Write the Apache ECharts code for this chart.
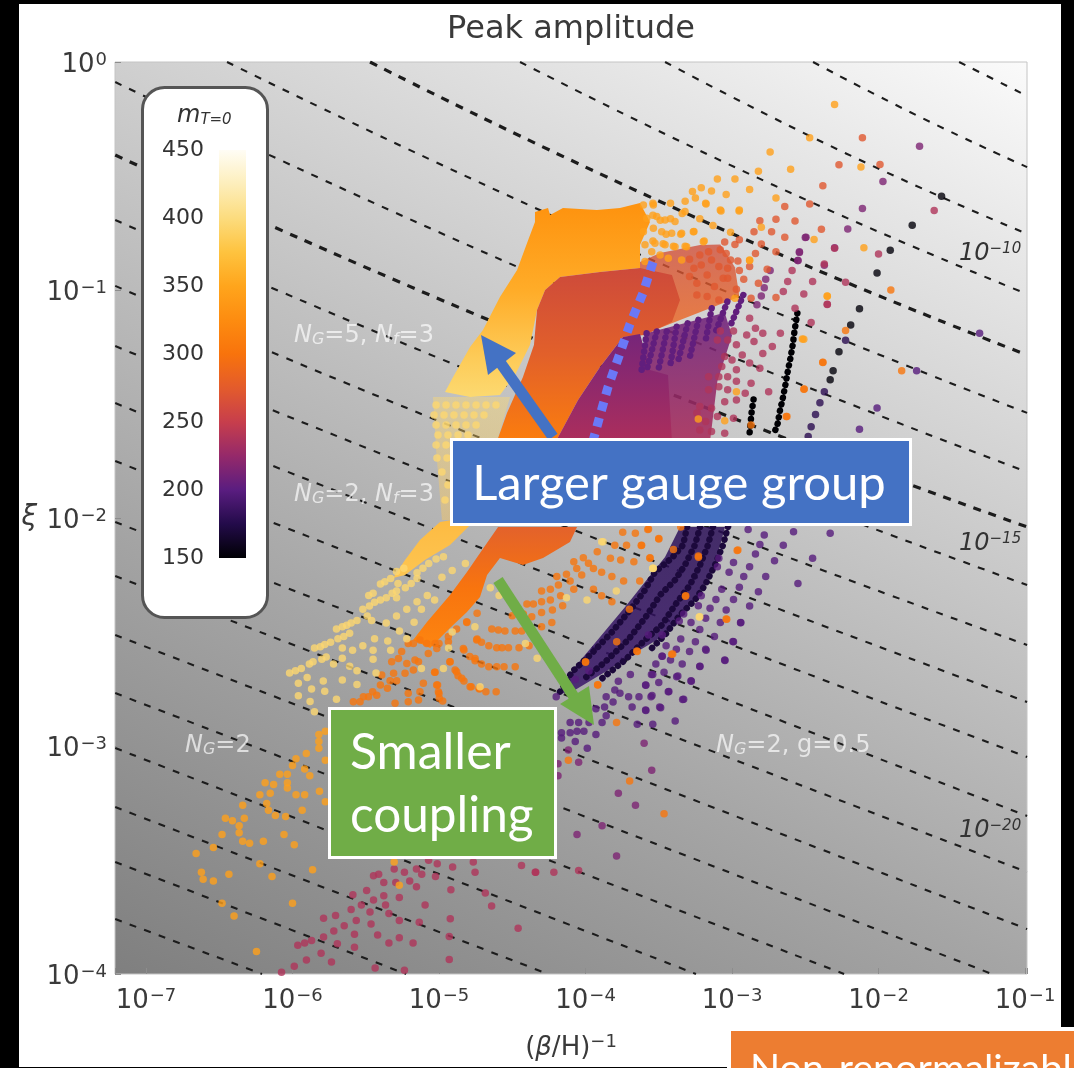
<!DOCTYPE html>
<html>
<head>
<meta charset="utf-8">
<title>Peak amplitude</title>
<script src="https://cdn.jsdelivr.net/npm/echarts@6/dist/echarts.min.js"></script>
<style>
html, body { margin: 0; padding: 0; background: #fff; overflow: hidden; }
#main { width: 1074px; height: 1068px; }
</style>
</head>
<body>
<div id="main"></div>
<script>
// every pair below is [log10 (beta/H)^-1, log10 xi]

var massTicks = [450, 400, 350, 300, 250, 200, 150];
var massColors = ['#000004', '#230b4a', '#5a1d80', '#95296a', '#c73e4c', '#e35b2c', '#f8730c', '#fd8c10', '#ffa51c', '#fec33f', '#fcdc7e', '#fdeebb', '#fffdf5'];

// dashed contours
var thinLines = [
    [[-1.45, 0], [-0.986, -0.149]],
    [[-2.447, 0], [-1.717, -0.241], [-0.986, -0.461]],
    [[-3.457, 0], [-2.222, -0.401], [-0.986, -0.754]],
    [[-4.447, 0], [-2.72, -0.539], [-0.986, -1.018]],
    [[-6.447, 0], [-3.717, -0.82], [-0.986, -1.539]],
    [[-7.21, -0.088], [-4.099, -1.0], [-0.986, -1.798]],
    [[-7.21, -0.693], [-4.099, -1.535], [-0.986, -2.294]],
    [[-7.21, -0.982], [-4.099, -1.807], [-0.986, -2.557]],
    [[-7.21, -1.246], [-4.099, -2.048], [-0.986, -2.807]],
    [[-7.21, -1.496], [-4.099, -2.285], [-0.986, -3.048]],
    [[-7.21, -1.75], [-4.099, -2.531], [-0.986, -3.307]],
    [[-7.21, -2.018], [-0.986, -3.553]],
    [[-7.21, -2.254], [-0.986, -3.803]],
    [[-7.21, -2.513], [-1.225, -4]],
    [[-7.21, -2.768], [-2.235, -4]],
    [[-7.21, -3.009], [-3.246, -4]],
    [[-7.21, -3.268], [-4.256, -4]],
    [[-7.21, -3.509], [-5.225, -4]],
    [[-7.21, -3.759], [-6.208, -4]]
];
var thickLines = [
    [[-5.471, 0], [-3.232, -0.687], [-0.986, -1.285]],
    [[-7.21, -0.408], [-4.099, -1.281], [-0.986, -2.039]]
];

// solid parts of the scan, too dense to tell dots apart
var amberRegion = [[-4.345, -0.702], [-4.345, -0.658], [-4.256, -0.64], [-4.242, -0.671], [-4.154, -0.64], [-3.922, -0.649], [-3.765, -0.64], [-3.628, -0.618], [-3.56, -0.702], [-3.628, -0.803], [-3.628, -0.904], [-3.901, -0.921], [-4.174, -0.943], [-4.276, -1.0], [-4.331, -1.088], [-4.379, -1.241], [-4.481, -1.373], [-4.584, -1.461], [-4.788, -1.469], [-4.959, -1.447], [-4.904, -1.382], [-4.788, -1.25], [-4.7, -1.175], [-4.584, -1.031], [-4.467, -0.912], [-4.399, -0.794]];
var redRegion = [[-4.174, -0.943], [-3.901, -0.921], [-3.628, -0.904], [-3.41, -0.934], [-3.355, -1.044], [-3.41, -1.14], [-3.594, -1.197], [-3.744, -1.206], [-3.901, -1.338], [-4.051, -1.482], [-4.201, -1.662], [-4.604, -1.662], [-4.536, -1.539], [-4.427, -1.382], [-4.352, -1.241], [-4.331, -1.088], [-4.276, -1.0]];
var magentaRegion = [[-3.744, -1.206], [-3.628, -1.193], [-3.56, -1.351], [-3.437, -1.373], [-3.41, -1.662], [-4.201, -1.662], [-4.051, -1.482], [-3.901, -1.338]];
var orangeRegion = [[-4.597, -2.039], [-4.058, -2.039], [-4.106, -2.105], [-4.29, -2.175], [-4.427, -2.206], [-4.584, -2.175], [-4.672, -2.25], [-4.72, -2.346], [-4.809, -2.412], [-4.925, -2.482], [-5.061, -2.57], [-5.177, -2.535], [-5.082, -2.456], [-4.925, -2.338], [-4.809, -2.237], [-4.72, -2.154]];
var yellowRegion = [[-4.911, -2.009], [-4.788, -2.031], [-4.925, -2.118], [-5.096, -2.184], [-5.232, -2.25], [-5.314, -2.263], [-5.232, -2.184], [-5.13, -2.096], [-4.993, -2.018]];

// looser parts: dots with the background showing between them
var yellowLoose = [[-5.041, -1.469], [-4.515, -1.469], [-4.604, -1.662], [-4.911, -1.662], [-4.911, -2.009], [-4.98, -2.009], [-5.02, -1.7]];
var redLoose = [[-3.628, -0.877], [-3.491, -0.838], [-3.218, -0.803], [-3.08, -0.8], [-2.98, -0.9], [-2.95, -1.03], [-3.58, -1.189], [-3.628, -1.1]];
var magentaLoose = [[-3.58, -1.189], [-3.05, -1.1], [-3.0, -1.2], [-3.1, -1.4], [-3.15, -1.662], [-3.628, -1.662]];
var darkLoose = [[-4.195, -2.776], [-4.072, -2.654], [-3.901, -2.522], [-3.73, -2.39], [-3.594, -2.281], [-3.457, -2.171], [-3.355, -2.039], [-3.048, -2.039], [-3.116, -2.206], [-3.253, -2.36], [-3.457, -2.513], [-3.628, -2.579], [-3.867, -2.675], [-4.072, -2.754]];

// runs of dots that touch each other
var purpleStrands = [
    [[-2.923, -1.022], [-3.014, -1.161]],
    [[-3.032, -1.051], [-3.116, -1.19]],
    [[-3.139, -1.08], [-3.184, -1.234]],
    [[-3.23, -1.131], [-3.287, -1.292]],
    [[-3.303, -1.146], [-3.366, -1.307]],
    [[-3.378, -1.161], [-3.423, -1.336]],
    [[-3.446, -1.182], [-3.503, -1.351]],
    [[-3.514, -1.182], [-3.582, -1.351]],
    [[-3.583, -1.19], [-3.617, -1.351]]
];
var darkStrands = [
    [[-3.307, -2.039], [-3.334, -2.118], [-3.41, -2.175], [-3.526, -2.237], [-3.594, -2.316], [-3.696, -2.404], [-3.819, -2.5], [-3.969, -2.601], [-4.092, -2.675], [-4.188, -2.776]],
    [[-3.218, -2.039], [-3.253, -2.118], [-3.321, -2.206], [-3.389, -2.272], [-3.491, -2.338], [-3.594, -2.439], [-3.71, -2.535], [-3.867, -2.632], [-4.003, -2.702]],
    [[-3.13, -2.039], [-3.164, -2.118], [-3.218, -2.206], [-3.287, -2.294], [-3.389, -2.382], [-3.478, -2.469], [-3.594, -2.535], [-3.73, -2.623], [-3.901, -2.711]],
    [[-3.027, -2.039], [-3.061, -2.118], [-3.116, -2.206], [-3.184, -2.294], [-3.253, -2.36], [-3.355, -2.425], [-3.457, -2.513], [-3.56, -2.579]]
];
var blackStrands = [
    [[-2.554, -1.102], [-2.573, -1.178], [-2.585, -1.238], [-2.601, -1.298], [-2.618, -1.351], [-2.63, -1.397], [-2.655, -1.48], [-2.674, -1.532], [-2.688, -1.585], [-2.712, -1.628]],
    [[-2.853, -1.48], [-2.867, -1.54], [-2.876, -1.6], [-2.883, -1.646]]
];

// separate dots, by colour
var blackDots = [[-1.57, -0.589], [-1.77, -0.716], [-1.92, -0.826], [-2.01, -0.925], [-2.13, -1.082], [-2.19, -1.154], [-2.27, -1.271], [-2.31, -1.354], [-2.33, -1.394]];
var darkDots = [[-2.37, -1.446], [-2.4, -1.495], [-2.43, -1.546], [-2.46, -1.6], [-2.48, -1.643], [-2.225, -1.22]];
var purpleDots = [[-2.89, -2.05], [-2.78, -2.075], [-2.58, -2.06], [-2.33, -2.067], [-2.81, -2.116], [-2.65, -2.12], [-2.84, -2.158], [-2.71, -2.187], [-2.45, -2.177], [-2.88, -2.214], [-2.99, -2.195], [-3.09, -2.177], [-3.02, -2.238], [-3.1, -2.214], [-2.92, -2.257], [-2.77, -2.257], [-2.55, -2.287], [-2.95, -2.304], [-2.82, -2.323], [-3.07, -2.312], [-2.99, -2.357], [-2.88, -2.386], [-3.11, -2.357], [-3.21, -2.341], [-3.04, -2.404], [-3.15, -2.396], [-3.23, -2.385], [-3.18, -2.44], [-3.08, -2.458], [-2.94, -2.458], [-3.28, -2.458], [-3.33, -2.421], [-3.36, -2.452], [-3.22, -2.489], [-3.12, -2.52], [-2.99, -2.543], [-3.35, -2.531], [-3.25, -2.543], [-3.45, -2.56], [-3.38, -2.576], [-3.29, -2.586], [-3.18, -2.576], [-3.476, -2.606], [-3.42, -2.623], [-3.34, -2.64], [-3.22, -2.65], [-3.05, -2.623], [-3.52, -2.64], [-3.464, -2.677], [-3.55, -2.686], [-3.378, -2.696], [-3.28, -2.714], [-3.59, -2.733], [-3.5, -2.722], [-3.435, -2.762], [-3.546, -2.779], [-3.33, -2.795], [-3.59, -2.842], [-3.487, -2.832], [-3.57, -2.513], [-3.476, -2.513], [-4.105, -2.897], [-4.047, -2.897], [-4.164, -2.942], [-4.105, -2.942], [-4.164, -2.965], [-4.058, -2.935], [-4.011, -2.935], [-3.976, -2.897], [-3.929, -2.95], [-4.07, -2.98], [-3.988, -3.01], [-3.887, -2.897], [-3.859, -2.867], [-3.929, -2.837], [-3.87, -2.829], [-3.859, -2.784], [-3.812, -2.807], [-3.8, -2.754], [-3.765, -2.769], [-3.776, -2.716], [-3.706, -2.784], [-3.635, -2.784], [-3.553, -2.784], [-3.682, -2.829], [-3.588, -2.844], [-3.494, -2.829], [-3.647, -2.905], [-3.541, -2.905], [-3.388, -2.89], [-3.694, -2.686], [-3.588, -2.734], [-3.541, -2.686], [-3.478, -2.606], [-3.431, -2.761], [-3.37, -2.693], [-3.278, -2.716], [-3.337, -2.796], [-3.177, -2.58], [-3.219, -2.651], [-3.048, -2.625], [-2.994, -2.542], [-2.942, -2.459], [-4.2, -2.784], [-4.07, -2.708], [-3.976, -2.671], [-1.31, -1.19], [-1.74, -1.354], [-2.01, -1.517], [-2.13, -1.611]];
var violetDots = [[-4.117, -3.018], [-4.047, -3.071], [-4.188, -3.078], [-4.188, -3.131], [-3.6, -2.988], [-3.548, -3.106], [-3.776, -3.207], [-3.659, -3.26], [-3.887, -3.35], [-4.058, -3.388], [-3.788, -3.482], [-1.72, -0.37], [-1.97, -0.524], [-2.11, -0.642], [-2.21, -0.732], [-2.3, -0.815], [-2.37, -0.891], [-2.5, -0.77], [-2.54, -0.835], [-2.55, -0.871], [-2.495, -0.769], [-2.54, -0.832], [-2.55, -0.871], [-2.74, -0.915], [-2.77, -0.953], [-2.78, -0.99], [-2.8, -1.026], [-2.83, -1.065]];
var crimsonDots = [[-1.62, -0.651], [-2.57, -1.08], [-2.46, -1.143], [-2.51, -1.017], [-2.65, -1.007], [-2.45, -0.963], [-2.37, -0.886], [-2.3, -0.817], [-2.59, -0.915], [-2.62, -0.963], [-2.35, -1.063], [-2.67, -1.19], [-2.725, -1.248], [-2.79, -1.19], [-2.88, -1.124], [-2.84, -1.168], [-2.9, -1.197], [-2.79, -1.278], [-2.85, -1.226], [-2.97, -1.24], [-2.93, -1.285], [-2.88, -1.32], [-2.81, -1.343], [-2.99, -1.18], [-3.03, -1.219], [-3.08, -1.18], [-3.1, -1.219], [-3.05, -1.292], [-3.0, -1.307], [-3.07, -1.336], [-2.97, -1.35], [-3.03, -1.38], [-3.09, -1.38], [-2.97, -1.4], [-2.87, -1.409], [-2.75, -1.446], [-2.91, -1.453], [-3.03, -1.438], [-3.09, -1.424], [-3.16, -1.438], [-3.16, -1.38], [-2.97, -1.482], [-3.05, -1.49], [-3.14, -1.519], [-3.22, -1.511], [-3.1, -1.555], [-3.18, -1.577], [-2.99, -1.563], [-3.14, -1.621], [-3.05, -1.628], [-3.22, -1.614], [-3.24, -1.54], [-2.35, -1.064], [-2.0, -0.842], [-2.225, -0.966], [-5.447, -3.569], [-5.412, -3.562], [-5.306, -3.539], [-5.236, -3.554], [-5.154, -3.539], [-5.071, -3.501], [-5.012, -3.516], [-4.907, -3.531], [-4.766, -3.509], [-4.754, -3.554], [-4.437, -3.524], [-4.343, -3.554], [-5.118, -3.562], [-5.024, -3.572], [-4.919, -3.63], [-5.377, -3.599], [-5.295, -3.599], [-5.2, -3.592], [-5.154, -3.617], [-5.271, -3.664], [-5.377, -3.657], [-5.494, -3.634], [-5.588, -3.652], [-5.447, -3.675], [-5.365, -3.697], [-5.53, -3.697], [-5.6, -3.717], [-5.471, -3.728], [-5.342, -3.735], [-5.271, -3.765], [-5.135, -3.773], [-4.923, -3.758], [-5.095, -3.697], [-4.684, -3.645], [-4.641, -3.702], [-4.46, -3.799], [-5.565, -3.765], [-5.647, -3.788], [-5.706, -3.743], [-5.788, -3.755], [-5.718, -3.811], [-5.464, -3.781], [-5.577, -3.826], [-5.419, -3.829], [-5.271, -3.841], [-4.93, -3.836], [-5.177, -3.864], [-5.342, -3.864], [-5.577, -3.883], [-5.694, -3.867], [-5.788, -3.838], [-5.87, -3.853], [-5.964, -3.874], [-5.917, -3.864], [-5.805, -3.909], [-5.734, -3.947], [-5.905, -3.939], [-5.988, -3.966], [-5.436, -3.974], [-5.236, -3.984], [-4.93, -3.936], [-6.075, -3.992], [-4.047, -3.546], [-4.216, -3.554], [-4.34, -3.554]];
var redDots = [[-2.11, -0.332], [-2.27, -0.451], [-1.99, -0.45], [-2.38, -0.543], [-2.64, -0.634], [-2.47, -0.623], [-2.7, -0.69], [-2.57, -0.697], [-2.81, -0.696], [-2.73, -0.744], [-2.85, -0.744], [-2.64, -0.769], [-2.39, -0.734], [-2.8, -0.798], [-2.7, -0.832], [-3.05, -0.79], [-2.95, -0.78], [-2.84, -0.84], [-2.98, -0.8], [-3.08, -0.824], [-3.16, -0.832], [-3.04, -0.84], [-3.22, -0.846], [-3.29, -0.865], [-3.14, -0.868], [-3.01, -0.868], [-2.96, -0.873], [-2.88, -0.897], [-2.76, -0.909], [-3.21, -0.89], [-3.09, -0.897], [-3.03, -0.905], [-3.26, -0.905], [-2.95, -0.915], [-3.17, -0.934], [-3.06, -0.949], [-2.92, -0.953], [-2.82, -0.97], [-3.29, -0.941], [-3.24, -0.97], [-3.12, -0.985], [-3.03, -0.949], [-2.97, -0.997], [-2.87, -1.036], [-2.7, -1.033], [-3.09, -1.044], [-3.17, -1.029], [-3.24, -1.022]];
var orangeDots = [[-3.92, -2.148], [-4.08, -2.192], [-4.015, -2.174], [-3.98, -2.199], [-4.06, -2.221], [-4.026, -2.25], [-3.946, -2.221], [-3.89, -2.238], [-3.83, -2.177], [-3.76, -2.184], [-3.67, -2.192], [-3.82, -2.257], [-3.74, -2.276], [-3.63, -2.276], [-3.746, -2.063], [-3.66, -2.067], [-3.72, -2.119], [-3.8, -2.119], [-3.62, -2.121], [-3.57, -2.048], [-3.5, -2.092], [-3.56, -2.174], [-4.196, -2.257], [-4.13, -2.247], [-4.105, -2.276], [-4.185, -2.294], [-4.08, -2.312], [-4.24, -2.312], [-4.3, -2.32], [-3.946, -2.312], [-3.89, -2.341], [-3.82, -2.367], [-4.17, -2.341], [-4.24, -2.36], [-4.3, -2.367], [-4.356, -2.377], [-4.4, -2.377], [-4.156, -2.385], [-4.226, -2.404], [-4.3, -2.414], [-4.367, -2.433], [-4.424, -2.421], [-4.5, -2.429], [-4.23, -2.458], [-4.3, -2.477], [-4.74, -2.418], [-4.81, -2.458], [-4.88, -2.487], [-4.64, -2.487], [-4.595, -2.491], [-4.55, -2.496], [-4.48, -2.496], [-4.435, -2.496], [-4.74, -2.531], [-4.71, -2.545], [-4.66, -2.56], [-4.606, -2.569], [-4.57, -2.569], [-4.526, -2.569], [-4.454, -2.569], [-4.385, -2.56], [-4.83, -2.579], [-4.79, -2.608], [-4.754, -2.626], [-4.71, -2.64], [-4.66, -2.652], [-4.606, -2.652], [-4.556, -2.652], [-4.48, -2.652], [-4.925, -2.63], [-4.89, -2.667], [-4.87, -2.692], [-4.83, -2.715], [-4.78, -2.74], [-4.724, -2.75], [-4.68, -2.762], [-4.61, -2.762], [-5.03, -2.677], [-5.01, -2.733], [-5.0, -2.77], [-4.975, -2.803], [-4.936, -2.52], [-4.936, -2.543], [-5.0, -2.55], [-5.015, -2.572], [-3.917, -2.733], [-3.65, -2.583], [-4.0, -2.63], [-3.787, -2.543], [-3.7, -2.4], [-5.255, -2.586], [-5.21, -2.55], [-5.175, -2.55], [-5.13, -2.535], [-5.084, -2.55], [-5.027, -2.55], [-5.073, -2.594], [-5.164, -2.623], [-5.323, -2.63], [-5.277, -2.616], [-5.22, -2.638], [-5.14, -2.63], [-5.31, -2.681], [-5.232, -2.681], [-5.175, -2.667], [-5.391, -2.689], [-5.334, -2.714], [-5.289, -2.714], [-5.4, -2.733], [-5.453, -2.762], [-5.352, -2.747], [-5.482, -2.784], [-5.516, -2.784], [-5.425, -2.777], [-5.539, -2.806], [-5.585, -2.806], [-5.107, -2.725], [-5.13, -2.762], [-5.21, -2.769], [-5.016, -2.733], [-5.004, -2.762], [-4.925, -2.63], [-5.027, -2.677], [-4.88, -2.674], [-4.845, -2.703], [-4.788, -2.74], [-4.727, -2.747], [-4.834, -2.572], [-4.754, -2.616], [-4.811, -2.455], [-4.743, -2.535], [-5.3, -2.813], [-5.21, -2.806], [-5.14, -2.798], [-4.998, -2.791], [-3.575, -2.05], [-3.5, -2.09], [-3.4, -2.138], [-3.35, -2.04], [-2.96, -2.14], [-3.23, -2.167], [-3.56, -2.177], [-3.617, -2.12], [-3.316, -2.341], [-3.04, -2.443], [-3.405, -2.597], [-3.788, -2.897], [-3.917, -2.731], [-3.699, -3.154], [-3.464, -3.297], [-4.117, -3.063], [-4.0, -2.633], [-3.647, -2.585], [-3.412, -2.598], [-3.036, -2.444], [-2.965, -2.142], [-3.318, -2.343], [-3.229, -2.172], [-1.916, -1.0], [-1.842, -1.354], [-2.225, -1.178], [-2.38, -1.318], [-2.507, -1.434], [-2.625, -1.555], [-2.51, -1.435], [-2.63, -1.555], [-2.38, -1.317], [-2.87, -1.592]];
var amberDots = [[-3.54, -0.619], [-3.42, -0.619], [-3.32, -0.611], [-3.25, -0.596], [-3.21, -0.551], [-3.27, -0.568], [-3.14, -0.566], [-3.04, -0.581], [-3.18, -0.619], [-3.22, -0.687], [-3.08, -0.649], [-2.95, -0.649], [-3.1, -0.513], [-2.98, -0.513], [-2.88, -0.559], [-3.34, -0.664], [-3.42, -0.687], [-3.49, -0.694], [-3.54, -0.672], [-3.45, -0.755], [-3.35, -0.755], [-3.26, -0.743], [-3.19, -0.785], [-3.32, -0.808], [-3.4, -0.808], [-3.47, -0.797], [-3.54, -0.785], [-3.13, -0.717], [-3.01, -0.747], [-2.88, -0.868], [-2.7, -0.596], [-2.8, -0.725], [-2.44, -0.778], [-2.1, -0.815], [-2.35, -1.027], [-2.52, -1.215], [-2.47, -0.332], [-2.3, -0.186], [-2.74, -0.395], [-2.82, -0.479], [-2.6, -0.47], [-2.12, -0.46], [-2.35, -1.026], [-2.51, -1.216], [-2.88, -0.871], [-3.23, -1.566], [-3.05, -1.573], [-2.98, -1.036], [-2.97, -1.446], [-3.605, -0.627], [-3.537, -0.627], [-3.582, -0.685], [-3.514, -0.678], [-3.457, -0.693], [-3.389, -0.7], [-3.321, -0.656], [-3.605, -0.744], [-3.537, -0.729], [-3.48, -0.744], [-3.412, -0.751], [-3.344, -0.751], [-3.264, -0.744], [-3.594, -0.802], [-3.526, -0.795], [-3.457, -0.802], [-3.389, -0.81], [-3.31, -0.81], [-3.196, -0.788], [-3.548, -0.832], [-3.491, -0.846], [-3.435, -0.861], [-3.344, -0.868], [-3.594, -0.875], [-3.075, -0.653], [-2.952, -0.653], [-3.177, -0.623], [-5.82, -2.95], [-5.82, -2.98], [-5.82, -3.01], [-5.776, -3.063], [-5.776, -2.935], [-5.906, -3.033], [-5.976, -3.056], [-6.0, -3.086], [-6.087, -3.124], [-6.035, -3.124], [-6.035, -3.161], [-6.035, -3.184], [-6.187, -3.161], [-6.129, -3.169], [-6.223, -3.214], [-6.152, -3.207], [-5.976, -3.214], [-5.917, -3.214], [-5.816, -3.199], [-5.776, -3.244], [-6.176, -3.252], [-6.164, -3.282], [-6.117, -3.305], [-6.047, -3.309], [-5.934, -3.282], [-6.34, -3.26], [-6.329, -3.317], [-6.458, -3.317], [-6.41, -3.328], [-6.364, -3.35], [-6.364, -3.38], [-6.481, -3.388], [-6.34, -3.418], [-6.293, -3.426], [-6.199, -3.418], [-6.058, -3.388], [-5.988, -3.433], [-6.54, -3.445], [-6.658, -3.471], [-6.223, -3.516], [-6.622, -3.554], [-6.61, -3.584], [-6.54, -3.592], [-6.434, -3.562], [-6.14, -3.572], [-5.863, -3.543], [-6.481, -3.69], [-6.0, -3.69], [-6.399, -3.746], [-6.246, -3.901], [-5.917, -3.101], [-5.882, -3.131], [-5.306, -3.509], [-5.271, -3.611]];
var yellowDots = [[-6.02, -2.68], [-5.98, -2.67], [-5.94, -2.66], [-5.885, -2.64], [-5.86, -2.63], [-5.8, -2.62], [-5.77, -2.61], [-5.85, -2.57], [-5.81, -2.565], [-5.78, -2.555], [-5.74, -2.545], [-5.69, -2.53], [-5.65, -2.52], [-5.61, -2.506], [-5.7, -2.487], [-5.66, -2.477], [-5.63, -2.47], [-5.6, -2.46], [-5.56, -2.45], [-5.49, -2.43], [-5.46, -2.45], [-5.52, -2.4], [-5.475, -2.386], [-5.44, -2.37], [-5.4, -2.36], [-5.36, -2.35], [-5.32, -2.33], [-5.29, -2.32], [-5.48, -2.34], [-5.45, -2.33], [-5.4, -2.29], [-5.37, -2.28], [-5.33, -2.265], [-5.29, -2.235], [-5.24, -2.22], [-5.28, -2.287], [-5.23, -2.306], [-5.19, -2.287], [-5.15, -2.265], [-5.11, -2.22], [-5.07, -2.2], [-5.02, -2.18], [-4.97, -2.17], [-5.15, -2.24], [-5.96, -2.725], [-5.9, -2.7], [-5.87, -2.75], [-5.79, -2.715], [-5.66, -2.71], [-5.56, -2.73], [-5.96, -2.78], [-5.78, -2.76], [-5.88, -2.805], [-5.7, -2.795], [-5.85, -2.85], [-5.66, -2.57], [-5.59, -2.58], [-5.52, -2.56], [-5.44, -2.53], [-5.35, -2.54], [-5.33, -2.58], [-5.45, -2.58], [-5.45, -2.62], [-5.66, -2.615], [-5.72, -2.64], [-5.61, -2.65], [-5.56, -2.67], [-5.43, -2.68], [-5.29, -2.35], [-5.36, -2.46], [-5.29, -2.43], [-5.22, -2.4], [-5.15, -2.367], [-5.12, -2.4], [-5.08, -2.34], [-5.03, -2.36], [-4.98, -2.26], [-4.91, -2.23], [-4.82, -2.2], [-5.17, -2.457], [-5.27, -2.496], [-5.22, -2.53], [-5.12, -2.66], [-4.97, -2.66], [-4.755, -2.477], [-4.91, -2.5], [-4.935, -2.57], [-4.33, -2.615], [-4.41, -2.55], [-3.99, -2.36], [-3.79, -2.32], [-3.89, -2.104], [-3.54, -2.22], [-4.13, -2.35], [-4.59, -2.34], [-4.65, -2.306], [-4.72, -2.74], [-3.22, -2.433], [-3.537, -2.22], [-3.541, -2.222], [-3.224, -2.434], [-3.88, -2.104], [-5.02, -1.504], [-4.952, -1.504], [-4.884, -1.504], [-4.816, -1.504], [-4.747, -1.504], [-4.679, -1.504], [-4.611, -1.504], [-5.034, -1.548], [-4.966, -1.548], [-4.898, -1.548], [-4.829, -1.548], [-4.761, -1.548], [-4.693, -1.548], [-5.02, -1.592], [-4.952, -1.592], [-4.884, -1.592], [-4.816, -1.592], [-4.747, -1.592], [-5.007, -1.636], [-4.939, -1.636], [-4.87, -1.636], [-4.802, -1.636], [-5.02, -1.68], [-4.952, -1.68], [-5.014, -1.737], [-4.945, -1.737], [-4.98, -1.798], [-4.939, -1.855], [-4.959, -1.921]];

var dotGroups = [
    { dots: blackDots, mass: 152 },
    { dots: darkDots, mass: 178 },
    { dots: purpleDots, mass: 198 },
    { dots: violetDots, mass: 215 },
    { dots: crimsonDots, mass: 238 },
    { dots: redDots, mass: 272 },
    { dots: orangeDots, mass: 302 },
    { dots: amberDots, mass: 345 },
    { dots: yellowDots, mass: 395 }
];

var xMin = Math.pow(10, -7.2116), xMax = Math.pow(10, -0.9866);
var LinearGradient = echarts.graphic.LinearGradient;
var sansFont = '"DejaVu Sans"';

function toValues(pairs) {
    return pairs.map(function (p) { return [Math.pow(10, p[0]), Math.pow(10, p[1])]; });
}
function massColor(m) {
    return echarts.color.lerp((m - 150) / 300, massColors);
}
function powerLabel(value) {
    var e = Math.log(value) / Math.LN10;
    if (Math.abs(e - Math.round(e)) > 1e-6) return '';
    e = Math.round(e);
    return '{base|10}{power|' + (e === 0 ? '0' : '\u2212' + Math.abs(e)) + '}';
}
var powerRich = {
    base: { fontFamily: sansFont, fontSize: 26, color: '#3a3a3a' },
    power: { fontFamily: sansFont, fontSize: 18, color: '#3a3a3a', verticalAlign: 'top', padding: [0, 0, 10, 1] }
};

function contourSeries(line, width, dash) {
    return {
        type: 'line', data: toValues(line), smooth: true, showSymbol: false, silent: true, z: 2,
        lineStyle: { color: '#1c1c1c', width: width, type: dash }
    };
}
function regionSeries(outline, stops) {
    return {
        type: 'custom', data: toValues(outline), silent: true, z: 3,
        encode: { x: 0, y: 1 },
        renderItem: function (params, api) {
            if (params.dataIndex > 0) return null;
            var pts = toValues(outline).map(function (v) { return api.coord(v); });
            return {
                type: 'polygon',
                shape: { points: pts },
                style: { fill: new LinearGradient(0, 0, 0, 1, stops) }
            };
        }
    };
}
function strandSeries(strand, mass, width, dash) {
    return {
        type: 'line', data: toValues(strand), showSymbol: false, silent: true, z: 4,
        lineStyle: { color: massColor(mass), width: width, cap: 'round', join: 'round', type: dash }
    };
}

var series = [];
thinLines.forEach(function (l) { series.push(contourSeries(l, 2.1, [7, 8.5])); });
thickLines.forEach(function (l) { series.push(contourSeries(l, 3.2, [8, 8])); });
series.push(regionSeries(yellowLoose, [{ offset: 0, color: 'rgba(252,217,112,0.42)' }, { offset: 1, color: 'rgba(253,200,90,0.42)' }]));
series.push(regionSeries(redLoose, [{ offset: 0, color: 'rgba(208,78,58,0.78)' }, { offset: 1, color: 'rgba(240,105,30,0.8)' }]));
series.push(regionSeries(magentaLoose, [{ offset: 0, color: 'rgba(110,35,125,0.88)' }, { offset: 1, color: 'rgba(170,45,90,0.88)' }]));
series.push(regionSeries(darkLoose, [{ offset: 0, color: 'rgba(40,12,85,0.82)' }, { offset: 1, color: 'rgba(55,18,105,0.82)' }]));
series.push(regionSeries(amberRegion, [
    { offset: 0, color: '#fe920e' }, { offset: 0.45, color: '#ffac28' }, { offset: 0.8, color: '#fdcb58' }, { offset: 1, color: '#fcd970' }
]));
series.push(regionSeries(yellowRegion, [{ offset: 0, color: '#fdbb42' }, { offset: 1, color: '#fdc552' }]));
series.push(regionSeries(redRegion, [
    { offset: 0, color: '#cd4a3b' }, { offset: 0.5, color: '#e2602a' }, { offset: 1, color: '#fb7d0e' }
]));
series.push(regionSeries(magentaRegion, [{ offset: 0, color: '#76257a' }, { offset: 1, color: '#ac2e5c' }]));
series.push(regionSeries(orangeRegion, [{ offset: 0, color: '#e3622b' }, { offset: 0.5, color: '#f8740e' }, { offset: 1, color: '#fd8510' }]));
purpleStrands.forEach(function (s) { series.push(strandSeries(s, 203, 6.5, [0.1, 6])); });
darkStrands.forEach(function (s) { series.push(strandSeries(s, 170, 6.5, [0.1, 6.5])); });
blackStrands.forEach(function (s) { series.push(strandSeries(s, 150, 6.5, [0.1, 6.5])); });
dotGroups.forEach(function (g) {
    series.push({
        type: 'scatter', data: toValues(g.dots), symbolSize: 7.5, silent: true, z: 5,
        itemStyle: { color: massColor(g.mass) }
    });
});

// legend, arrows, boxes and in-plot notes sit on top of the plot
var graphics = [];
function addRect(x, y, w, h, fill, extra) {
    var el = { type: 'rect', shape: { x: x, y: y, width: w, height: h }, style: { fill: fill }, z: 100, silent: true };
    if (extra) {
        if (extra.r) el.shape.r = extra.r;
        if (extra.stroke) { el.style.stroke = extra.stroke; el.style.lineWidth = extra.lineWidth; }
    }
    graphics.push(el);
}
function addText(x, y, text, size, color, opts) {
    opts = opts || {};
    graphics.push({
        type: 'text', x: x, y: y, z: opts.z || 101, silent: true,
        style: {
            text: text, fill: color, fontSize: size, fontFamily: opts.font || sansFont,
            fontStyle: opts.italic ? 'italic' : 'normal',
            align: opts.align || 'left', verticalAlign: 'middle', rich: opts.rich
        }
    });
}
function addArrow(shaft, head, color, width) {
    graphics.push({ type: 'line', z: 100, silent: true, shape: { x1: shaft[0], y1: shaft[1], x2: shaft[2], y2: shaft[3] }, style: { stroke: color, lineWidth: width } });
    graphics.push({ type: 'polygon', z: 100, silent: true, shape: { points: head }, style: { fill: color } });
}

// blue square-dotted guide
graphics.push({
    type: 'polyline', z: 99, silent: true,
    shape: { points: [[653, 262], [643, 293], [630, 324], [619, 356], [608, 387], [599, 419], [593, 441]] },
    style: { stroke: '#6b78f7', lineWidth: 9, lineDash: [9, 7.5], fill: null }
});
addArrow([553, 437, 497, 358], [[481, 335], [488, 375], [516, 353]], '#4472c4', 11);
addArrow([498, 580, 578, 703], [[594, 725], [560, 704], [589, 686]], '#70ad47', 11);

// colour legend
addRect(142.5, 87.5, 125, 530, '#fff', { r: 22, stroke: '#555', lineWidth: 3 });
addRect(219, 150, 27, 408, new LinearGradient(0, 1, 0, 0, massColors.map(function (c, i) {
    return { offset: i / (massColors.length - 1), color: c };
})));
massTicks.forEach(function (m) {
    addText(204, 150 + (450 - m) * 1.36, String(m), 22, '#333', { align: 'right' });
});
addText(177, 116, '{m|m}{sub|T=0}', 22, '#333', { rich: {
    m: { fontFamily: sansFont, fontSize: 24, fontStyle: 'italic', fill: '#333' },
    sub: { fontFamily: sansFont, fontSize: 15, fontStyle: 'italic', fill: '#333', verticalAlign: 'bottom', padding: [8, 0, 0, 0] }
} });

// notes inside the plot
var noteRich = {
    i: { fontFamily: sansFont, fontSize: 24, fontStyle: 'italic', fill: 'rgba(255,255,255,0.68)' },
    s: { fontFamily: sansFont, fontSize: 16, fontStyle: 'italic', fill: 'rgba(255,255,255,0.68)', padding: [8, 0, 0, 0] },
    t: { fontFamily: sansFont, fontSize: 24, fill: 'rgba(255,255,255,0.68)' }
};
addText(294, 336, '{i|N}{s|G}{t|=5, }{i|N}{s|f}{t|=3}', 24, '#fff', { rich: noteRich, z: 98 });
addText(294, 495, '{i|N}{s|G}{t|=2, }{i|N}{s|f}{t|=3}', 24, '#fff', { rich: noteRich, z: 98 });
addText(185, 746, '{i|N}{s|G}{t|=2}', 24, '#fff', { rich: noteRich, z: 98 });
addText(716, 746, '{i|N}{s|G}{t|=2, g=0.5}', 24, '#fff', { rich: noteRich, z: 98 });

var contourRich = {
    b: { fontFamily: sansFont, fontSize: 24, fontStyle: 'italic', fill: '#333' },
    p: { fontFamily: sansFont, fontSize: 15, fontStyle: 'italic', fill: '#333', padding: [0, 0, 10, 0] }
};
addText(959, 254, '{b|10}{p|\u221210}', 24, '#333', { rich: contourRich, z: 98 });
addText(959, 544, '{b|10}{p|\u221215}', 24, '#333', { rich: contourRich, z: 98 });
addText(959, 831, '{b|10}{p|\u221220}', 24, '#333', { rich: contourRich, z: 98 });

// call-out boxes
addRect(451.5, 439.5, 459, 85, '#4472c4', { stroke: '#fff', lineWidth: 3 });
addText(679, 484, 'Larger gauge group', 49, '#fff', { font: 'Lato', align: 'center' });
addRect(329.5, 708.5, 226, 149, '#70ad47', { stroke: '#fff', lineWidth: 3 });
addText(350, 753, 'Smaller', 50, '#fff', { font: 'Lato' });
addText(350, 816, 'coupling', 49.5, '#fff', { font: 'Lato' });

// the slide around the figure
addRect(0, 0, 1074, 4, '#000');
addRect(0, 0, 19, 1068, '#000');
addRect(1061, 0, 13, 1027, '#000');
addRect(19, 1067, 708, 1, '#000');
addRect(731, 1031, 343, 37, '#ed7d31');
addText(750, 1069, 'Non-renormalizable', 39.5, '#fff', { font: 'Lato' });

var option = {
    animation: false,
    backgroundColor: '#fff',
    title: {
        text: 'Peak amplitude', left: 566, top: 9, textAlign: 'center',
        textStyle: { fontFamily: sansFont, fontSize: 32, fontWeight: 'normal', color: '#3a3a3a' }
    },
    grid: {
        left: 115, top: 62, width: 912, height: 912, show: true, borderWidth: 1, borderColor: '#c4c4c4',
        backgroundColor: new LinearGradient(115, 974, 662, -119, [
            { offset: 0, color: '#7f7f7f' },
            { offset: 0.333, color: '#a5a5a5' },
            { offset: 0.667, color: '#cfcfcf' },
            { offset: 0.85, color: '#e6e6e6' },
            { offset: 1, color: '#fafafa' }
        ], true)
    },
    xAxis: {
        type: 'log', logBase: 10, min: xMin, max: xMax,
        name: '{n|(}{b|\u03b2}{n|/H)}{p|\u22121}', nameLocation: 'middle', nameGap: 59,
        nameTextStyle: { rich: {
            n: { fontFamily: sansFont, fontSize: 26, color: '#3a3a3a' },
            b: { fontFamily: sansFont, fontSize: 26, fontStyle: 'italic', color: '#3a3a3a' },
            p: { fontFamily: sansFont, fontSize: 18, color: '#3a3a3a', padding: [0, 0, 12, 0] }
        } },
        splitLine: { show: false }, minorSplitLine: { show: false },
        axisLine: { show: false },
        axisTick: { show: true, inside: true, length: 6, lineStyle: { color: '#8d8d8d' } },
        axisLabel: { interval: 0, margin: 13, formatter: powerLabel, rich: powerRich, showMinLabel: true, showMaxLabel: true }
    },
    yAxis: {
        type: 'log', logBase: 10, min: 1e-4, max: 1,
        name: '\u03be', nameLocation: 'middle', nameRotate: 0, nameGap: 78,
        nameTextStyle: { fontFamily: sansFont, fontSize: 28, fontStyle: 'italic', color: '#3a3a3a', padding: [12, 0, 0, 0] },
        splitLine: { show: false }, minorSplitLine: { show: false },
        axisLine: { show: false },
        axisTick: { show: true, inside: true, length: 6, lineStyle: { color: '#8d8d8d' } },
        axisLabel: { interval: 0, margin: 8, padding: [6, 0, 0, 0], formatter: powerLabel, rich: powerRich, showMinLabel: true, showMaxLabel: true }
    },
    series: series,
    graphic: { elements: graphics }
};

var myChart = echarts.init(document.getElementById('main'));
myChart.setOption(option, true);
</script>
</body>
</html>
